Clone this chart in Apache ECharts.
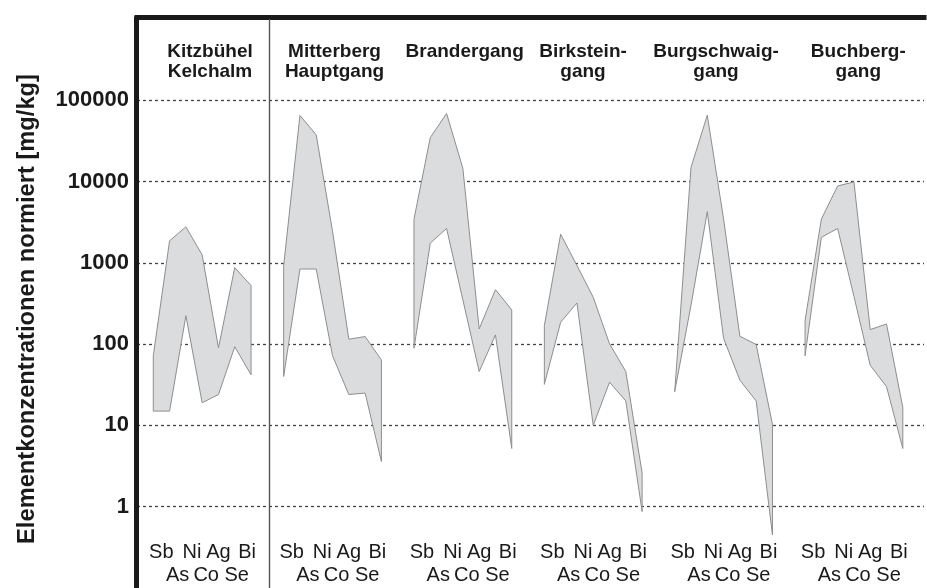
<!DOCTYPE html>
<html>
<head>
<meta charset="utf-8">
<script src="https://cdn.jsdelivr.net/npm/echarts@6/dist/echarts.min.js"></script>
<style>
  html, body { margin: 0; padding: 0; background: #fff; }
  #chart { width: 927px; height: 588px; }
</style>
</head>
<body>
<div id="chart"></div>
<script>
const elements = ["Sb", "As", "Ni", "Co", "Ag", "Se", "Bi"]
const deposits = ["Kitzbühel\nKelchalm", "Mitterberg\nHauptgang", "Brandergang", "Birkstein-\ngang", "Burgschwaig-\ngang", "Buchberg-\ngang"]
const yTicks = [1, 10, 100, 1000, 10000, 100000]

// upper and lower envelope of each deposit, same order as elements
const kitzbuehelMax = [72, 1870, 2770, 1250, 90, 875, 525]
const kitzbuehelMin = [15, 15, 224, 19, 24, 93, 42]
const mitterbergMax = [920, 65000, 37500, 2450, 115, 124, 64]
const mitterbergMin = [40, 840, 840, 72, 24, 25, 3.6]
const brandergangMax = [3450, 34700, 68900, 14500, 154, 468, 264]
const brandergangMin = [89, 1750, 2650, 350, 46, 130, 5.2]
const birksteinMax = [169, 2250, 930, 377, 101, 46, 2.6]
const birksteinMin = [32, 186, 321, 10, 34, 20, 0.87]
const burgschwaigMax = [26, 14900, 65600, 3450, 125, 99, 10.3]
const burgschwaigMin = [26, 300, 4260, 118, 36, 20, 0.45]
const buchbergMax = [195, 3450, 8830, 9890, 151, 177, 16.6]
const buchbergMin = [72, 2060, 2650, 387, 55, 30, 5.2]

const envelopes = [
  [kitzbuehelMax, kitzbuehelMin],
  [mitterbergMax, mitterbergMin],
  [brandergangMax, brandergangMin],
  [birksteinMax, birksteinMin],
  [burgschwaigMax, burgschwaigMin],
  [buchbergMax, buchbergMin]
]

// layout only
const step = 8 // slots per deposit (7 elements + gap)
const titleX = [210, 334.5, 464.7, 583, 716, 858.3]
const labelShift = [8, 8, 6, 4, 0, 2, -4]
const font = "'Liberation Sans', Arial, Helvetica, sans-serif"
const ink = "#1a1a1a"

const rich = {e: {fontSize: 20, lineHeight: 23.4, align: "center"}}
elements.forEach((el, i) => {
  const s = labelShift[i]
  rich["s" + i] = {
    fontSize: 20, lineHeight: 23.4, align: "center", color: ink, fontFamily: font,
    padding: s >= 0 ? [0, 0, 0, 2 * s] : [0, -2 * s, 0, 0]
  }
})

const chart = echarts.init(document.getElementById("chart"), null, {renderer: "canvas"})

chart.setOption({
  animation: false,
  backgroundColor: "#fff",
  grid: {left: 137, right: 0, top: 19, height: 570.5},
  xAxis: [
    {
      type: "value",
      min: -1,
      max: 47.3,
      interval: 1,
      axisLine: {show: false},
      axisTick: {show: false},
      splitLine: {show: false},
      axisLabel: {
        inside: true,
        margin: 0.8,
        showMinLabel: true,
        showMaxLabel: true,
        fontFamily: font,
        fontSize: 20,
        lineHeight: 23.4,
        color: ink,
        rich: rich,
        formatter(val) {
          const v = Math.round(val)
          if (v < 0) return ""
          const i = v % step
          if (i >= elements.length || Math.floor(v / step) >= deposits.length) return ""
          return i % 2 === 0 ? `{s${i}|${elements[i]}}\n{e| }` : `{e| }\n{s${i}|${elements[i]}}`
        }
      }
    },
    {
      type: "value",
      position: "top",
      min: -1,
      max: 47.3,
      offset: 1.5,
      axisLine: {show: true, onZero: false, lineStyle: {color: ink, width: 5, cap: "square"}},
      axisTick: {show: false},
      axisLabel: {show: false},
      splitLine: {show: false}
    }
  ],
  yAxis: {
    type: "log",
    logBase: 10,
    min: 0.1,
    max: 1000000,
    offset: 1,
    axisLine: {show: true, onZero: false, lineStyle: {color: ink, width: 5, cap: "square"}},
    axisTick: {show: false},
    axisLabel: {
      margin: 7,
      fontFamily: font,
      fontWeight: "bold",
      fontSize: 22,
      color: ink,
      formatter(val) {
        const hit = yTicks.find(t => Math.abs(t - val) / t < 1e-6)
        return hit ? String(hit) : ""
      }
    },
    splitLine: {
      show: true,
      showMinLine: false,
      showMaxLine: false,
      lineStyle: {color: "#444", width: 1.3, type: [3, 3]}
    }
  },
  graphic: [
    {
      type: "text",
      x: 27,
      y: 309,
      rotation: Math.PI / 2,
      style: {
        text: "Elementkonzentrationen normiert [mg/kg]",
        font: `bold 23.7px ${font}`,
        fill: ink,
        textAlign: "center",
        textVerticalAlign: "middle"
      }
    },
    ...deposits.map((name, g) => ({
      type: "text",
      x: titleX[g],
      y: 41.5,
      style: {
        text: name,
        font: `bold 19px ${font}`,
        lineHeight: 20,
        fill: ink,
        textAlign: "center",
        textVerticalAlign: "top"
      }
    }))
  ],
  series: [
    {
      type: "custom",
      xAxisIndex: 0,
      data: deposits.map((d, g) => [g * step + 3, 1, g]),
      encode: {x: 0, y: 1},
      renderItem(params, api) {
        const g = api.value(2)
        const [hi, lo] = envelopes[g]
        const pts = []
        hi.forEach((v, i) => pts.push(api.coord([g * step + i, v])))
        for (let i = lo.length - 1; i >= 0; i--) pts.push(api.coord([g * step + i, lo[i]]))
        return {
          type: "polygon",
          shape: {points: pts},
          style: {fill: "#dbdcde", stroke: "#8e8e8e", lineWidth: 1}
        }
      },
      markLine: {
        silent: true,
        symbol: "none",
        label: {show: false},
        lineStyle: {color: "#555", width: 1.4, type: "solid"},
        data: [{xAxis: 7.13}]
      }
    }
  ]
})
</script>
</body>
</html>
